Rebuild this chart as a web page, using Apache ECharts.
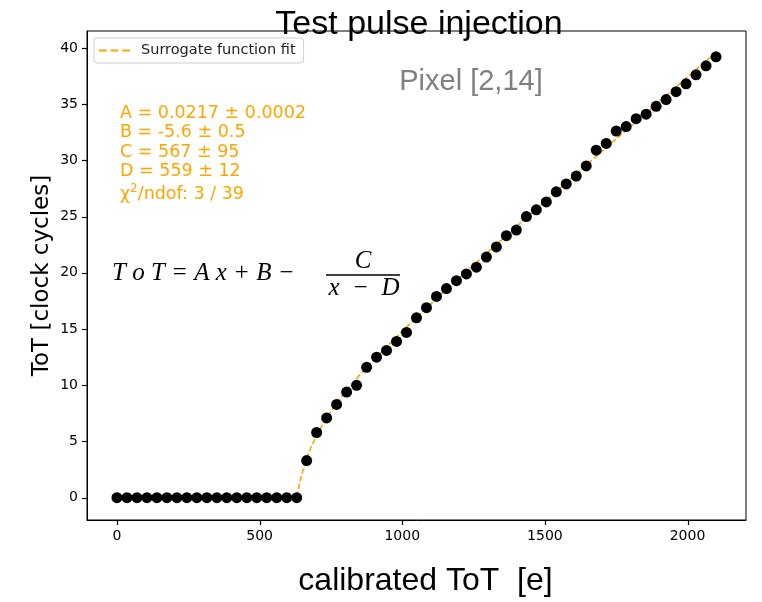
<!DOCTYPE html>
<html><head><meta charset="utf-8">
<script src="https://cdn.jsdelivr.net/npm/echarts@6/dist/echarts.min.js"></script>
<style>html,body{margin:0;padding:0;background:#fff}#c{width:762px;height:602px}</style>
</head><body><div id="c"></div>
<script>
// calibrated charge [e] of each injected test pulse
const xCharge = [0,35,70,105,140,175,210,245,280,315,350,385,420,455,490,525,560,595,630,
  665,700,735,770,805,840,875,910,945,980,1015,1050,1085,1120,1155,1190,1225,1260,1295,1330,
  1365,1400,1435,1470,1505,1540,1575,1610,1645,1680,1715,1750,1785,1820,1855,1890,1925,1960,
  1995,2030,2065,2100];
// measured ToT [clock cycles]
const totMeasured = [0,0,0,0,0,0,0,0,0,0,0,0,0,0,0,0,0,0,0,
  3.3,5.8,7.1,8.3,9.4,10.0,11.6,12.5,13.1,13.9,14.7,16.0,16.9,17.9,18.6,19.3,19.9,20.5,21.4,22.3,
  23.3,23.8,25.0,25.6,26.3,27.2,27.9,28.6,29.5,30.9,31.5,32.6,33.0,33.7,34.1,34.8,35.4,36.1,
  36.8,37.6,38.4,39.2];
// surrogate function fit curve
const fitCharge = [630,635,640,650,665,680,700,735,770,805,850,900,1000,1100,1200,1400,1600,1800,2000,2100];
const fitTot    = [0.08,0.72,1.29,2.27,3.48,4.47,5.57,7.13,8.42,9.57,10.90,12.27,14.81,17.22,19.56,24.11,28.58,33.00,37.41,39.60];
const xTicks = [0,500,1000,1500,2000];
const yTicks = [0,5,10,15,20,25,30,35,40];
const xRange = [-105, 2205];
const yRange = [-1.98, 41.5];
const paramLines = ['A = 0.0217 \u00b1 0.0002','B = -5.6 \u00b1 0.5','C = 567 \u00b1 95','D = 559 \u00b1 12','{c|\u03c7}{s|2}{c|/ndof: 3 / 39}'];

const chart = echarts.init(document.getElementById('c'), null, {renderer:'canvas'});
const paramY = [113,132,152,171,193];
const graphics = paramLines.map((t,i)=>({
  type:'text', x:120, y:paramY[i],
  style:{text:t, fill:'#FFA500', font:'17.5px "DejaVu Sans"', textAlign:'left', textVerticalAlign:'middle',
    rich:{c:{fontSize:17.5, fontFamily:'DejaVu Sans', color:'#FFA500', verticalAlign:'bottom'},
          s:{fontSize:12, fontFamily:'DejaVu Sans', color:'#FFA500', verticalAlign:'bottom', padding:[0,0,9,0]}}}
}));
const mathFont = 'italic 25px "Liberation Serif"';
graphics.push(
  {type:'text', x:112, y:273, style:{text:'T o T = A x + B \u2212', fill:'#000', font:mathFont, textAlign:'left', textVerticalAlign:'middle'}},
  {type:'text', x:363, y:261, style:{text:'C', fill:'#000', font:mathFont, textAlign:'center', textVerticalAlign:'middle'}},
  {type:'text', x:364, y:288, style:{text:'x  \u2212  D', fill:'#000', font:mathFont, textAlign:'center', textVerticalAlign:'middle'}},
  {type:'line', shape:{x1:326,y1:275,x2:400,y2:275}, style:{stroke:'#000', lineWidth:1.3}},
  {type:'text', x:471, y:82, style:{text:'Pixel [2,14]', fill:'#808080', font:'29px "Liberation Sans"', textAlign:'center', textVerticalAlign:'middle'}}
);

const keepTick = (list) => (v => list.indexOf(Math.round(v * 1000) / 1000) >= 0 ? String(v) : '');

chart.setOption({
  animation:false,
  backgroundColor:'#fff',
  tooltip:{show:false},
  title:{text:'Test pulse injection', left:414, top:3, textAlign:'center',
    textStyle:{fontFamily:'Liberation Sans', fontSize:34, fontWeight:'normal', color:'#000'}},
  legend:{data:[{name:'Surrogate function fit', icon:'path://M0,0h8v2h-8z M12,0h8v2h-8z M24,0h8v2h-8z'}],
    left:94, top:38, orient:'vertical',
    padding:[5,8,5,5], itemWidth:31, itemHeight:2, borderColor:'#d0d0d0', borderWidth:1, borderRadius:3,
    backgroundColor:'#fff', itemStyle:{color:'#FFA500'},
    textStyle:{fontFamily:'DejaVu Sans', fontSize:14.5, color:'#222', padding:[0,0,0,6]}},
  grid:{left:87, right:16, top:31, bottom:81, show:true, borderColor:'#000', borderWidth:1, backgroundColor:'transparent'},
  xAxis:{type:'value', min:xRange[0], max:xRange[1], splitNumber:5,
    axisLine:{show:true, onZero:false, lineStyle:{color:'#000', width:1}}, splitLine:{show:false},
    axisTick:{show:false},
    axisLabel:{color:'#000', fontFamily:'DejaVu Sans', fontSize:14, margin:9, showMinLabel:false, showMaxLabel:false, formatter:keepTick(xTicks)},
    name:'calibrated ToT  [e]', nameLocation:'middle', nameGap:45, nameMoveOverlap:false,
    nameTextStyle:{fontFamily:'Liberation Sans', fontSize:32, color:'#000', padding:[0,0,0,18]}},
  yAxis:{type:'value', min:yRange[0], max:yRange[1], splitNumber:8,
    axisLine:{show:true, onZero:false, lineStyle:{color:'#000', width:1}}, splitLine:{show:false},
    axisTick:{show:false},
    axisLabel:{color:'#000', fontFamily:'DejaVu Sans', fontSize:14, margin:9, showMinLabel:false, showMaxLabel:false, formatter:keepTick(yTicks)},
    name:'ToT [clock cycles]', nameLocation:'middle', nameGap:33, nameRotate:90, nameMoveOverlap:false,
    nameTextStyle:{fontFamily:'DejaVu Sans', fontSize:23, color:'#000'}},
  graphic:graphics,
  series:[
    {name:'Surrogate function fit', type:'line', z:2, showSymbol:false, symbol:'none',
      data:fitCharge.map((x,i)=>[x,fitTot[i]]),
      lineStyle:{color:'#FFA500', width:1.6, type:[5.5,2.4]}, itemStyle:{color:'#FFA500'}},
    {name:'Measured', type:'scatter', z:3, symbol:'circle', symbolSize:11,
      data:xCharge.map((x,i)=>[x,totMeasured[i]]),
      itemStyle:{color:'#000', opacity:1}}
  ]
});

// outward tick marks, positioned through the chart's own axis scales
const tickMarks = [];
const toPx = (pt) => chart.convertToPixel({gridIndex:0}, pt);
xTicks.forEach(v => {
  const p = toPx([v, yRange[0]]);
  if (!p || !isFinite(p[0]) || !isFinite(p[1])) return;
  const x = Math.round(p[0]) + 0.5;
  tickMarks.push({type:'line', silent:true, z:100, shape:{x1:x, y1:p[1], x2:x, y2:p[1] + 5}, style:{stroke:'#000', lineWidth:1.2}});
});
yTicks.forEach(v => {
  const p = toPx([xRange[0], v]);
  if (!p || !isFinite(p[0]) || !isFinite(p[1])) return;
  const y = Math.round(p[1]) + 0.5;
  tickMarks.push({type:'line', silent:true, z:100, shape:{x1:p[0] - 5, y1:y, x2:p[0], y2:y}, style:{stroke:'#000', lineWidth:1.2}});
});
chart.setOption({graphic: graphics.concat(tickMarks)});
</script></body></html>
